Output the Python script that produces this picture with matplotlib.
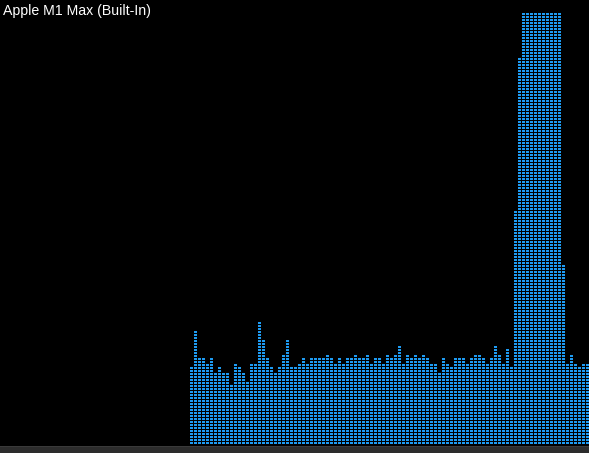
import numpy as np
import matplotlib.pyplot as plt
from matplotlib.patches import Rectangle

# GPU history: number of lit cells per column (1 column per sample)
title = "Apple M1 Max (Built-In)"
n_cols = 100
max_rows = 144
cell_rows = [26, 38, 29, 29, 27, 29, 24, 26, 24, 24,
             20, 27, 26, 24, 21, 27, 27, 41, 35, 29,
             26, 24, 26, 30, 35, 26, 26, 27, 29, 27,
             29, 29, 29, 29, 30, 29, 27, 29, 27, 29,
             29, 30, 29, 29, 30, 27, 29, 29, 27, 30,
             29, 30, 33, 27, 30, 29, 30, 29, 30, 29,
             27, 27, 24, 29, 27, 26, 29, 29, 29, 27,
             29, 30, 30, 29, 27, 29, 33, 30, 27, 32,
             26, 78, 129, 144, 144, 144, 144, 144, 144, 144,
             144, 144, 144, 60, 27, 30, 27, 26, 27, 27]

W, H = 589, 453
fig = plt.figure(figsize=(W / 100, H / 100), dpi=100, facecolor="black")

# bottom strip
fig.patches.append(Rectangle((0, 0), 1, 7 / H, transform=fig.transFigure,
                             facecolor="#2c2c2c", edgecolor="none"))
fig.patches.append(Rectangle((0, 6 / H), 1, 1 / H, transform=fig.transFigure,
                             facecolor="#3a3a3a", edgecolor="none"))

# one data unit = 4 px horizontally, 3 px vertically
left_px, bottom_px = 190, H - 444
ax = fig.add_axes([left_px / W, bottom_px / H, 4 * n_cols / W, 3 * 148 / H])
ax.set_facecolor("none")
ax.set_xlim(0, n_cols)
ax.set_ylim(0, 148)
ax.axis("off")

heights = np.array(cell_rows)
x = np.arange(n_cols)
for row in range(max_rows):
    on = heights > row
    ax.bar(x[on], 2 / 3, width=0.75, bottom=row, align="edge",
           color="#1e9bf2", linewidth=0, antialiased=False)

fig.text(3 / W, 1 - 4 / H, title, color="white", fontsize=10.2,
         family="Liberation Sans", ha="left", va="top")

fig.savefig("out.png", dpi=100, facecolor="black")
